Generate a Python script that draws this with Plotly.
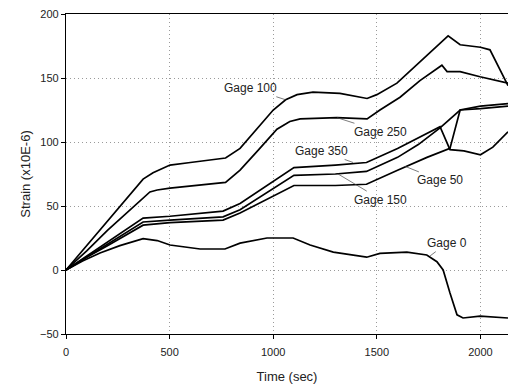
import plotly.graph_objects as go

# ---- data ----
t_g100 = [0, 100, 200, 300, 372, 420, 502, 600, 770, 840, 903, 1000, 1060, 1115, 1192, 1322, 1453, 1500, 1597, 1708, 1790, 1844, 1902, 2000, 2046, 2133]
s_g100 = [0, 19, 38, 57, 71, 76, 82, 84, 87.5, 95, 107, 125, 133, 137, 139, 138, 134, 137, 146, 162.5, 175, 183, 176, 174, 172, 144]

t_g250 = [0, 100, 200, 300, 405, 440, 502, 770, 840, 930, 1018, 1080, 1130, 1308, 1453, 1515, 1612, 1708, 1814, 1839, 1902, 1998, 2133]
s_g250 = [0, 15, 31, 46, 61, 62.5, 64, 68.5, 78, 94, 110, 116, 118, 119, 118, 125, 135, 148, 160, 155, 155, 151, 146]

t_g350 = [0, 100, 200, 300, 372, 502, 758, 840, 1000, 1100, 1300, 1450, 1600, 1700, 1805, 1853, 1920, 2000, 2060, 2133]
s_g350 = [0, 11, 22, 33, 40.5, 42, 46, 52, 69, 80, 82, 84, 95, 103, 112, 94, 93, 90, 96, 108]

t_g150 = [0, 100, 200, 300, 372, 502, 758, 840, 1000, 1100, 1300, 1450, 1600, 1700, 1805, 1902, 2000, 2133]
s_g150 = [0, 10, 20, 30, 37.5, 39, 41.5, 47, 64, 74, 75, 77, 88, 98, 111, 125, 126, 128]

t_g50 = [0, 100, 200, 300, 372, 502, 758, 840, 1000, 1100, 1300, 1450, 1600, 1742, 1853, 1902, 2000, 2133]
s_g50 = [0, 10, 19, 28, 35, 37, 39, 44.5, 58, 66, 66, 67, 78, 88, 95, 125, 128, 130]

t_g0 = [0, 80, 164, 260, 372, 440, 502, 647, 767, 840, 970, 1096, 1178, 1290, 1451, 1515, 1645, 1741, 1790, 1820, 1853, 1887, 1916, 1998, 2133]
s_g0 = [0, 7, 13.3, 19, 24.5, 23, 19.5, 16.4, 16.4, 21, 25, 25, 19.5, 14, 10, 13, 14, 11.7, 6.5, 0, -18, -35, -37.5, -36, -37.5]

x_ticks = [0, 500, 1000, 1500, 2000]
y_ticks = [-50, 0, 50, 100, 150, 200]

# label text position and the curve point its leader line goes to
labels = ["Gage 100", "Gage 250", "Gage 350", "Gage 150", "Gage 50", "Gage 0"]
label_x = [888, 1520, 1231, 1520, 1805, 1839]
label_y = [142, 108, 93, 55, 70, 21]
point_x = [1060, 1308, 1385, 1313, 1636, 1757]
point_y = [133, 119, 84, 75, 81, 11]

series = [(t_g100, s_g100), (t_g250, s_g250), (t_g350, s_g350),
          (t_g150, s_g150), (t_g50, s_g50), (t_g0, s_g0)]

fig = go.Figure()
for (tx, sy), name in zip(series, labels):
    fig.add_trace(go.Scatter(x=tx, y=sy, mode="lines", name=name,
                             line=dict(color="black", width=1.7)))

for txt, lx, ly, px, py in zip(labels, label_x, label_y, point_x, point_y):
    fig.add_annotation(x=px, y=py, ax=lx, ay=ly, axref="x", ayref="y",
                       text=txt, showarrow=True, arrowhead=0, arrowwidth=0.7,
                       arrowcolor="#444444",
                       font=dict(family="Liberation Sans, Arial", size=12, color="#222222"))

grid = dict(showgrid=True, gridcolor="#9a9a9a", griddash="1px,3px", gridwidth=1)

fig.update_layout(
    width=508, height=386,
    margin=dict(l=66, r=0, t=14, b=52),
    plot_bgcolor="white", paper_bgcolor="white",
    showlegend=False,
    font=dict(family="Liberation Sans, Arial", size=11, color="#222222"),
    xaxis=dict(range=[0, 2133], tickvals=x_ticks, ticks="outside", ticklen=4,
               tickcolor="black", showline=True, linecolor="black", linewidth=1.3,
               mirror=True, zeroline=False, ticklabelstandoff=4,
               title=dict(text="Time (sec)", font=dict(size=13), standoff=14), **grid),
    yaxis=dict(range=[-50, 200], tickvals=y_ticks, ticks="outside", ticklen=4,
               tickcolor="black", showline=True, linecolor="black", linewidth=1.3,
               zeroline=False,
               title=dict(text="Strain (x10E-6)", font=dict(size=13), standoff=6), **grid),
)

fig.write_html("out.html")
